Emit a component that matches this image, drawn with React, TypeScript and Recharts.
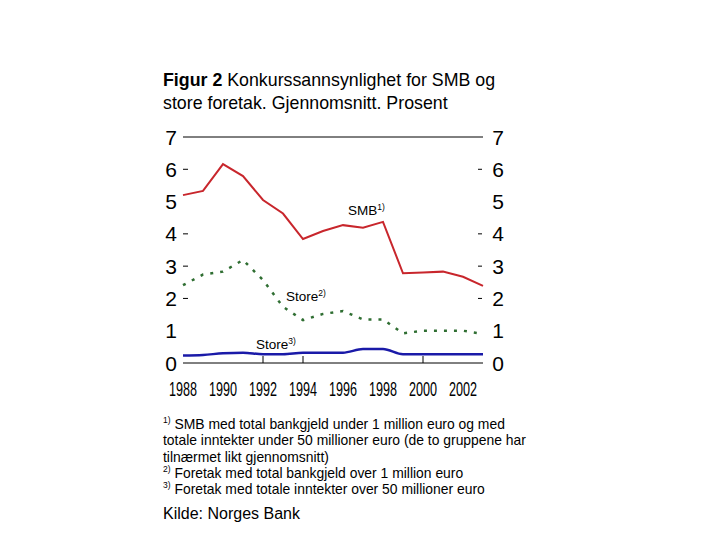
import React from 'react';
import { LineChart, Line, XAxis, YAxis, ReferenceLine } from 'recharts';

// values (percent)
const years = [1988, 1989, 1990, 1991, 1992, 1993, 1994, 1995, 1996, 1997, 1998, 1999, 2000, 2001, 2002, 2003];
const smb = [5.2, 5.33, 6.16, 5.79, 5.05, 4.63, 3.84, 4.09, 4.27, 4.19, 4.37, 2.78, 2.8, 2.83, 2.67, 2.39];
const storeDebt = [2.41, 2.74, 2.83, 3.19, 2.57, 1.74, 1.33, 1.52, 1.61, 1.35, 1.35, 0.92, 1.0, 1.0, 1.0, 0.9];
const storeIncome = [0.23, 0.25, 0.3, 0.32, 0.27, 0.27, 0.32, 0.32, 0.32, 0.43, 0.43, 0.27, 0.27, 0.27, 0.27, 0.27];

const xTicks = [1988, 1990, 1992, 1994, 1996, 1998, 2000, 2002];
const xTickMarks = [1992, 1994, 2000];
const yTicks = [0, 1, 2, 3, 4, 5, 6, 7];
const yDashed = [2, 3, 4, 6];

const data = years.map((year, i) => ({
  year,
  smb: smb[i],
  storeDebt: storeDebt[i],
  storeIncome: storeIncome[i],
}));

const axisFont = '"Liberation Sans Narrow", "Arial Narrow", "Liberation Sans", Arial, sans-serif';
const textFont = '"Liberation Sans", Arial, sans-serif';

const LeftTick = ({ x, y, payload }: any) => (
  <g>
    <text x={x - 12} y={y} dy="0.36em" textAnchor="middle" fontSize={21} fontFamily={axisFont} fill="#000">
      {payload.value}
    </text>
    {yDashed.includes(payload.value) && <line x1={x} x2={x + 5} y1={y} y2={y} stroke="#000" />}
  </g>
);

const RightTick = ({ x, y, payload }: any) => (
  <g>
    <text x={x + 15} y={y} dy="0.36em" textAnchor="middle" fontSize={21} fontFamily={axisFont} fill="#000">
      {payload.value}
    </text>
    {yDashed.includes(payload.value) && <line x1={x - 5} x2={x - 1} y1={y} y2={y} stroke="#000" />}
  </g>
);

// year labels are very condensed in the original: small font stretched vertically
const BottomTick = ({ x, y, payload }: any) => (
  <g>
    {xTickMarks.includes(payload.value) && <line x1={x} x2={x} y1={y - 7} y2={y} stroke="#000" />}
    <text
      transform={`translate(${x}, ${y + 25}) scale(1, 1.5)`}
      dy="0.36em"
      textAnchor="middle"
      fontSize={14}
      fontFamily={axisFont}
      fill="#000"
      textLength={28}
      lengthAdjust="spacingAndGlyphs"
    >
      {payload.value}
    </text>
  </g>
);

const sup: React.CSSProperties = { fontSize: 8.5, verticalAlign: 'super', lineHeight: 0 };

const SeriesLabel = ({ left, top, name, mark }: { left: number; top: number; name: string; mark: string }) => (
  <div style={{ position: 'absolute', left, top, fontSize: 13.5, fontFamily: textFont, whiteSpace: 'nowrap' }}>
    {name}
    <span style={sup}>{mark}</span>
  </div>
);

export default function App() {
  return (
    <div style={{ position: 'absolute', left: 0, top: 0, width: 720, height: 540, background: '#fff', fontFamily: textFont }}>
      <div style={{ position: 'absolute', left: 163, top: 69, fontSize: 17.8, lineHeight: '23px', color: '#000' }}>
        <b>Figur 2</b> Konkurssannsynlighet for SMB og
        <br />
        store foretak. Gjennomsnitt. Prosent
      </div>

      <LineChart
        width={720}
        height={540}
        data={data}
        margin={{ top: 137, right: 207, bottom: 147, left: 153 }}
        style={{ position: 'absolute', left: 0, top: 0 }}
      >
        <XAxis
          dataKey="year"
          type="number"
          domain={[1988, 2003]}
          ticks={xTicks}
          interval={0}
          height={30}
          tickSize={0}
          tickMargin={0}
          tickLine={false}
          axisLine={{ stroke: '#000' }}
          tick={<BottomTick />}
        />
        <YAxis
          yAxisId="left"
          domain={[0, 7]}
          ticks={yTicks}
          interval={0}
          width={30}
          tickSize={0}
          tickMargin={0}
          tickLine={false}
          axisLine={false}
          tick={<LeftTick />}
        />
        <YAxis
          yAxisId="right"
          orientation="right"
          domain={[0, 7]}
          ticks={yTicks}
          interval={0}
          width={30}
          tickSize={0}
          tickMargin={0}
          tickLine={false}
          axisLine={false}
          tick={<RightTick />}
        />
        <ReferenceLine yAxisId="left" y={7} stroke="#000" />
        <Line yAxisId="left" type="linear" dataKey="smb" stroke="#c8262c" strokeWidth={2} dot={false} isAnimationActive={false} />
        <Line
          yAxisId="right"
          type="linear"
          dataKey="storeDebt"
          stroke="#2f6e32"
          strokeWidth={2.5}
          strokeDasharray="3 7"
          dot={false}
          isAnimationActive={false}
        />
        <Line yAxisId="left" type="monotone" dataKey="storeIncome" stroke="#1a1aa8" strokeWidth={2.5} dot={false} isAnimationActive={false} />
      </LineChart>

      <SeriesLabel left={348} top={203} name="SMB" mark="1)" />
      <SeriesLabel left={286} top={289} name="Store" mark="2)" />
      <SeriesLabel left={256} top={337} name="Store" mark="3)" />

      <div style={{ position: 'absolute', left: 163, top: 416, fontSize: 13.9, lineHeight: '16.3px', color: '#000' }}>
        <div><span style={sup}>1)</span> SMB med total bankgjeld under 1 million euro og med</div>
        <div>totale inntekter under 50 millioner euro (de to gruppene har</div>
        <div>tilnærmet likt gjennomsnitt)</div>
        <div><span style={sup}>2)</span> Foretak med total bankgjeld over 1 million euro</div>
        <div><span style={sup}>3)</span> Foretak med totale inntekter over 50 millioner euro</div>
      </div>

      <div style={{ position: 'absolute', left: 163, top: 505, fontSize: 16, color: '#000' }}>Kilde: Norges Bank</div>
    </div>
  );
}
